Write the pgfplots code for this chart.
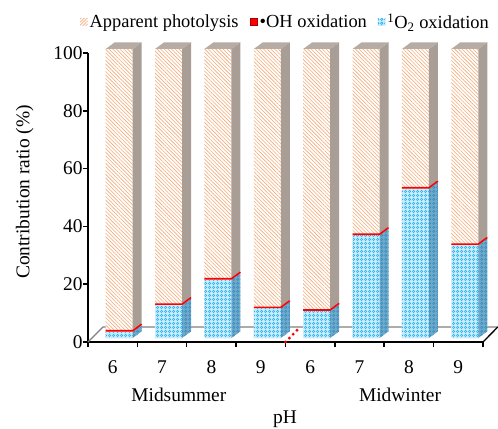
\documentclass[border=0pt]{standalone}
\usepackage{fontspec}
\setmainfont{Liberation Serif}
\usepackage{pgfplots}
\pgfplotsset{compat=1.18}
\usepackage{pgfplotstable}
\usetikzlibrary{patterns,patterns.meta}

\definecolor{orH}{RGB}{244,170,120}
\definecolor{taupe}{RGB}{168,158,150}
\definecolor{taupeT}{RGB}{182,172,164}
\definecolor{blueF}{RGB}{20,175,240}
\definecolor{blueBG}{RGB}{200,236,252}
\definecolor{blueS}{RGB}{110,170,205}
\definecolor{blueSP}{RGB}{60,140,185}

\pgfdeclarepattern{
  name=spheres, type=uncolored,
  bottom left={\pgfpointorigin}, top right={\pgfpoint{4bp}{4bp}},
  tile size={\pgfpoint{4bp}{4bp}},
  code={\pgfsetlinewidth{0.6bp}\pgfpathcircle{\pgfpoint{2bp}{2bp}}{1.4bp}\pgfusepath{stroke}}
}

\newcommand\fs{\fontsize{19.5}{22}\selectfont}
\newcommand\fl{\fontsize{18.5}{21}\selectfont}

% x: category index; o2: 1O2 oxidation; oh: OH oxidation; ph: apparent photolysis (%)
\pgfplotstableread{
x  o2    oh   ph
0  2.2   0.6  97.2
1  11.4  0.6  88.0
2  20.2  0.6  79.2
3  10.3  0.6  89.1
4  9.4   0.6  90.0
5  35.6  0.6  63.8
6  51.7  0.6  47.7
7  32.2  0.6  67.2
}\datatable

\begin{document}
\begin{tikzpicture}
\useasboundingbox (-88bp,-87bp) rectangle (410bp,342bp);
\begin{axis}[
  at={(0,0)}, anchor=south west,
  scale only axis, width=395bp, height=289bp,
  xmin=-0.5, xmax=7.5, ymin=0, ymax=100,
  clip=false,
  axis x line*=bottom, axis y line*=left,
  axis line style={line width=1.5bp, black},
  tick style={line width=1.5bp, black},
  tick align=outside, major tick length=5bp,
  ytick={0,20,...,100},
  xtick={-0.5,0.5,...,7.5},
  xticklabels={6,7,8,9,6,7,8,9,{}},
  xticklabel style={xshift=24.7bp, yshift=-10bp, font=\fs},
  yticklabel style={font=\fs, xshift=3bp},
  /pgf/number format/assume math mode=true,
  legend image code/.code={\path[#1] (0bp,-3.5bp) rectangle (7.5bp,3.5bp);},
  legend style={at={(0.5,1.107)}, anchor=center, draw=none, fill=none,
    legend columns=3, font=\fl, inner sep=0pt,
    /tikz/every even column/.append style={column sep=9bp}},
  legend cell align=left,
  barsh/.style={yshift=4bp},
]
% floor
\addplot[forget plot, gray, line width=1.3bp] coordinates {(-0.5,0) (-0.196,5.2) (7.8,5.2)};
\addplot[forget plot, black, line width=1.3bp] coordinates {(7.5,0) (7.8,5.2)};
\addplot[forget plot, red, line width=3.2bp, dash pattern=on 0bp off 5.5bp, line cap=round] coordinates {(3.5,0) (3.8,5.2)};

% front faces
\addplot[forget plot, barsh, ybar, bar width=0.547, draw=none, fill=white,
  postaction={pattern={Lines[angle=-45,distance=2.6bp,line width=0.6bp]}, pattern color=orH}]
  table[x expr=\thisrow{x}+0.1315, y expr=\thisrow{o2}+\thisrow{oh}+\thisrow{ph}] {\datatable};
\addplot[forget plot, barsh, ybar, bar width=0.547, draw=none, fill=blueBG,
  postaction={pattern=spheres, pattern color=blueF}]
  table[x expr=\thisrow{x}+0.1315, y=o2] {\datatable};

% side and top faces
\pgfplotsinvokeforeach{0,...,7}{
  \pgfplotstablegetelem{#1}{o2}\of\datatable \let\vb\pgfplotsretval
  \pgfplotstablegetelem{#1}{oh}\of\datatable \let\vo\pgfplotsretval
  \pgfmathsetmacro\xl{#1-0.142}
  \pgfmathsetmacro\xr{#1+0.405}
  \pgfmathsetmacro\xb{#1+0.587}
  \pgfmathsetmacro\xlb{#1+0.040}
  \pgfmathsetmacro\yb{\vb}
  \pgfmathsetmacro\ybd{\vb+2.3}
  \pgfmathsetmacro\yo{\vb+\vo}
  \pgfmathsetmacro\yod{\vb+\vo+2.3}
  \pgfmathsetmacro\ym{\vb+0.5*\vo}
  \pgfmathsetmacro\ymd{\vb+0.5*\vo+2.3}
  \addplot[forget plot, barsh, draw=none, fill=blueS,
    postaction={pattern=spheres, pattern color=blueSP}]
    coordinates {(\xr,0) (\xb,2.3) (\xb,\ybd) (\xr,\yb)} -- cycle;
  \addplot[forget plot, barsh, draw=none, fill=taupe]
    coordinates {(\xr,\yo) (\xb,\yod) (\xb,102.3) (\xr,100)} -- cycle;
  \addplot[forget plot, barsh, draw=none, fill=taupeT]
    coordinates {(\xl,100) (\xr,100) (\xb,102.3) (\xlb,102.3)} -- cycle;
  \addplot[forget plot, barsh, red, line width=1.6bp]
    coordinates {(\xl,\ym) (\xr,\ym) (\xb,\ymd)};
}

% legend
\addlegendimage{draw=none, fill=white, postaction={pattern={Lines[angle=45,distance=2.2bp,line width=0.7bp]}, pattern color=orH}}
\addlegendentry{Apparent photolysis}
\addlegendimage{fill=red, draw=red!65!black, line width=0.6bp}
\addlegendentry{\textbullet OH oxidation}
\addlegendimage{draw=none, fill=blueBG, postaction={pattern=spheres, pattern color=blueF}}
\addlegendentry{\textsuperscript{1}O\textsubscript{2} oxidation}

% labels
\node[font=\fs, rotate=90] at (axis cs:-1.78,51.9) {Contribution ratio (\%)};
\node[font=\fs] at (axis cs:1.34,-18.3) {Midsummer};
\node[font=\fs] at (axis cs:5.82,-18.3) {Midwinter};
\node[font=\fs] at (axis cs:3.49,-26.8) {pH};
\end{axis}
\end{tikzpicture}
\end{document}
